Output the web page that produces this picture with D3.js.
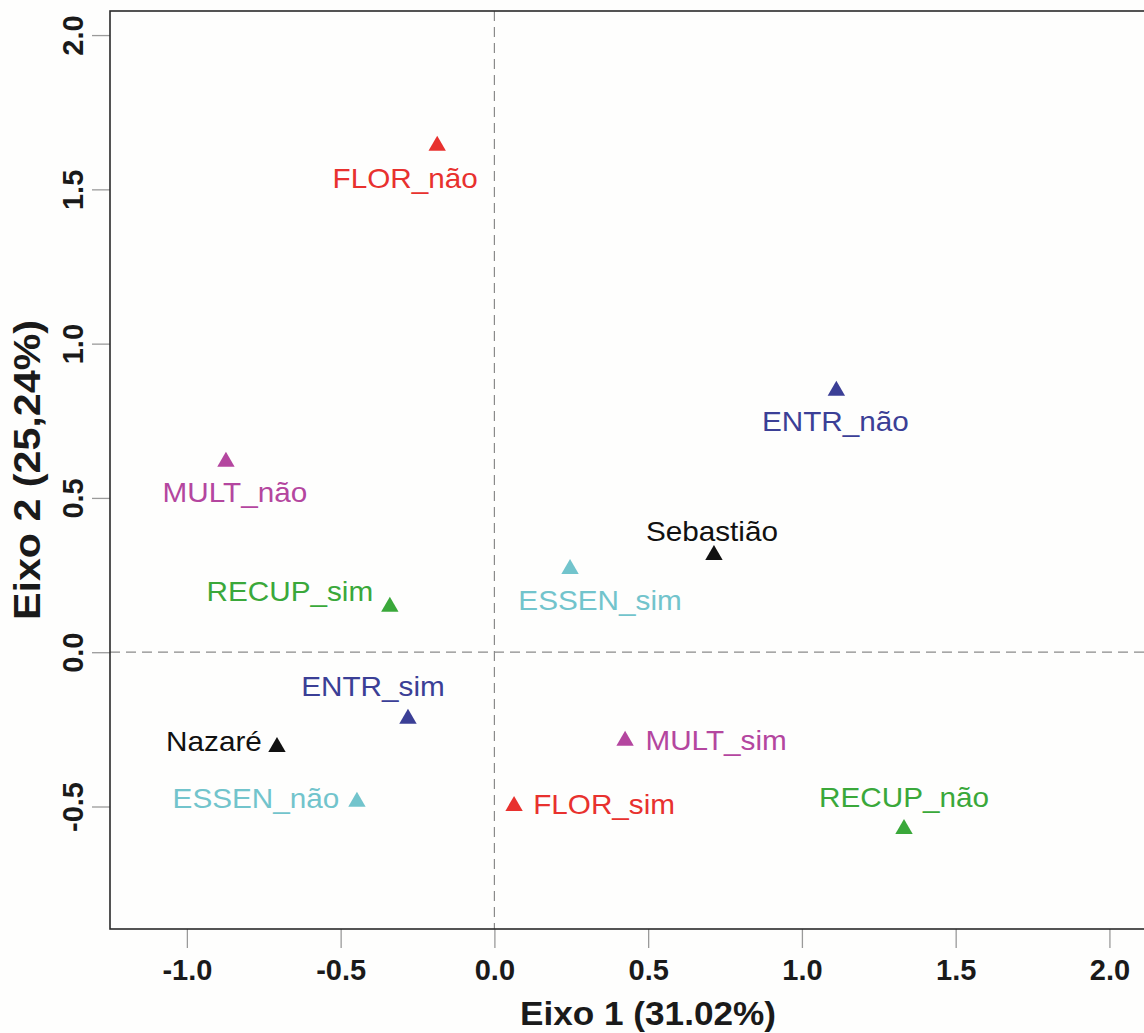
<!DOCTYPE html>
<html>
<head>
<meta charset="utf-8">
<script src="https://cdn.jsdelivr.net/npm/d3@7"></script>
<style>
  html, body { margin: 0; padding: 0; background: #fefefd; }
  svg { display: block; font-family: "Liberation Sans", Arial, Helvetica, sans-serif; }
</style>
</head>
<body>
<svg id="chart" width="1144" height="1033"></svg>
<script>
// ---- data ----
const labels = ["FLOR_não", "ENTR_não", "MULT_não", "Sebastião", "ESSEN_sim", "RECUP_sim",
                "ENTR_sim", "Nazaré", "MULT_sim", "ESSEN_não", "FLOR_sim", "RECUP_não"];
const groups = ["FLOR", "ENTR", "MULT", "LOCAL", "ESSEN", "RECUP",
                "ENTR", "LOCAL", "MULT", "ESSEN", "FLOR", "RECUP"];
const dim1 = [-0.186, 1.112, -0.873, 0.714, 0.246, -0.340, -0.281, -0.707, 0.425, -0.447, 0.064, 1.332];
const dim2 = [1.641, 0.847, 0.617, 0.315, 0.270, 0.147, -0.216, -0.307, -0.287, -0.485, -0.498, -0.573];
const xTicks = [-1.0, -0.5, 0.0, 0.5, 1.0, 1.5, 2.0];
const yTicks = [-0.5, 0.0, 0.5, 1.0, 1.5, 2.0];
const xTitle = "Eixo 1 (31.02%)";
const yTitle = "Eixo 2 (25,24%)";

// ---- styling / layout (kept apart from data) ----
const groupColors = {
  FLOR: "#e8312e", ENTR: "#3b3f96", MULT: "#b4469f",
  LOCAL: "#111111", ESSEN: "#72c4cc", RECUP: "#3aa83a"
};
// label center offsets (px) relative to the point
const labelOffsets = {
  "FLOR_não": [-32, 33], "ENTR_não": [-1, 31], "MULT_não": [9, 31], "Sebastião": [-2, -24],
  "ESSEN_sim": [30, 32], "RECUP_sim": [-100, -15], "ENTR_sim": [-35, -32], "Nazaré": [-63, -5],
  "MULT_sim": [91, 0], "ESSEN_não": [-101, -3], "FLOR_sim": [90, -1], "RECUP_não": [0, -32]
};

const plot = { left: 110, right: 1186, top: 11, bottom: 929 };
const svg = d3.select("#chart");

const x = d3.scaleLinear().domain([-1.25, 2.249]).range([plot.left, plot.right]);
const y = d3.scaleLinear().domain([-0.897, 2.078]).range([plot.bottom, plot.top]);

const fmt = v => d3.format(".1f")(v).replace("\u2212", "-");

// background
svg.append("rect").attr("x", 0).attr("y", 0).attr("width", 1144).attr("height", 1033).attr("fill", "#fefefd");

// dashed reference lines
svg.append("line")
  .attr("x1", plot.left).attr("x2", plot.right).attr("y1", y(0)).attr("y2", y(0))
  .attr("stroke", "#8a8a8a").attr("stroke-width", 1.2).attr("stroke-dasharray", "10,6");
svg.append("line")
  .attr("x1", x(0)).attr("x2", x(0)).attr("y1", plot.top).attr("y2", plot.bottom)
  .attr("stroke", "#8a8a8a").attr("stroke-width", 1.2).attr("stroke-dasharray", "10,6");

// axes
const gx = svg.append("g").attr("transform", `translate(0,${plot.bottom})`)
  .call(d3.axisBottom(x).tickValues(xTicks).tickSize(19).tickFormat(fmt));
gx.select(".domain").remove();
gx.selectAll(".tick line").attr("stroke", "#9a9a9a").attr("stroke-width", 1.3);
gx.selectAll(".tick text")
  .attr("y", 51).attr("dy", 0)
  .attr("fill", "#1a1a1a").attr("font-size", 29).attr("font-weight", "bold")
  .attr("font-family", "Liberation Sans, Arial, sans-serif");

const gy = svg.append("g").attr("transform", `translate(${plot.left},0)`)
  .call(d3.axisLeft(y).tickValues(yTicks).tickSize(18).tickFormat(fmt));
gy.select(".domain").remove();
gy.selectAll(".tick line").attr("stroke", "#9a9a9a").attr("stroke-width", 1.3);
gy.selectAll(".tick text")
  .attr("x", 0).attr("y", 0).attr("dy", 0)
  .attr("transform", "translate(-27,0) rotate(-90)")
  .attr("text-anchor", "middle")
  .attr("fill", "#1a1a1a").attr("font-size", 29).attr("font-weight", "bold")
  .attr("font-family", "Liberation Sans, Arial, sans-serif");

// box
svg.append("rect")
  .attr("x", plot.left).attr("y", plot.top)
  .attr("width", plot.right - plot.left).attr("height", plot.bottom - plot.top)
  .attr("fill", "none").attr("stroke", "#2a2a2a").attr("stroke-width", 1.6);

// axis titles
svg.append("text")
  .attr("x", (plot.left + plot.right) / 2).attr("y", 1025)
  .attr("text-anchor", "middle").attr("font-size", 33).attr("font-weight", "bold")
  .attr("textLength", 256).attr("lengthAdjust", "spacingAndGlyphs")
  .attr("fill", "#1a1a1a").text(xTitle);
svg.append("text")
  .attr("transform", `translate(40,${(plot.top + plot.bottom) / 2}) rotate(-90)`)
  .attr("text-anchor", "middle").attr("font-size", 36).attr("font-weight", "bold")
  .attr("textLength", 300).attr("lengthAdjust", "spacingAndGlyphs")
  .attr("fill", "#1a1a1a").text(yTitle);

// points
const pts = labels.map((l, i) => ({ label: l, group: groups[i], d1: dim1[i], d2: dim2[i] }));
const tri = "M0,-10L8.7,5L-8.7,5Z";

svg.append("g").selectAll("path").data(pts).join("path")
  .attr("d", tri)
  .attr("transform", d => `translate(${x(d.d1)},${y(d.d2)})`)
  .attr("fill", d => groupColors[d.group]);

// labels
svg.append("g").selectAll("g").data(pts).join("g")
  .attr("transform", d => {
    const o = labelOffsets[d.label];
    return `translate(${x(d.d1) + o[0]},${y(d.d2) + o[1] + 9.5}) scale(1.1,1)`;
  })
  .append("text")
  .attr("text-anchor", "middle")
  .attr("font-size", 27)
  .attr("fill", d => groupColors[d.group])
  .text(d => d.label);
</script>
</body>
</html>
